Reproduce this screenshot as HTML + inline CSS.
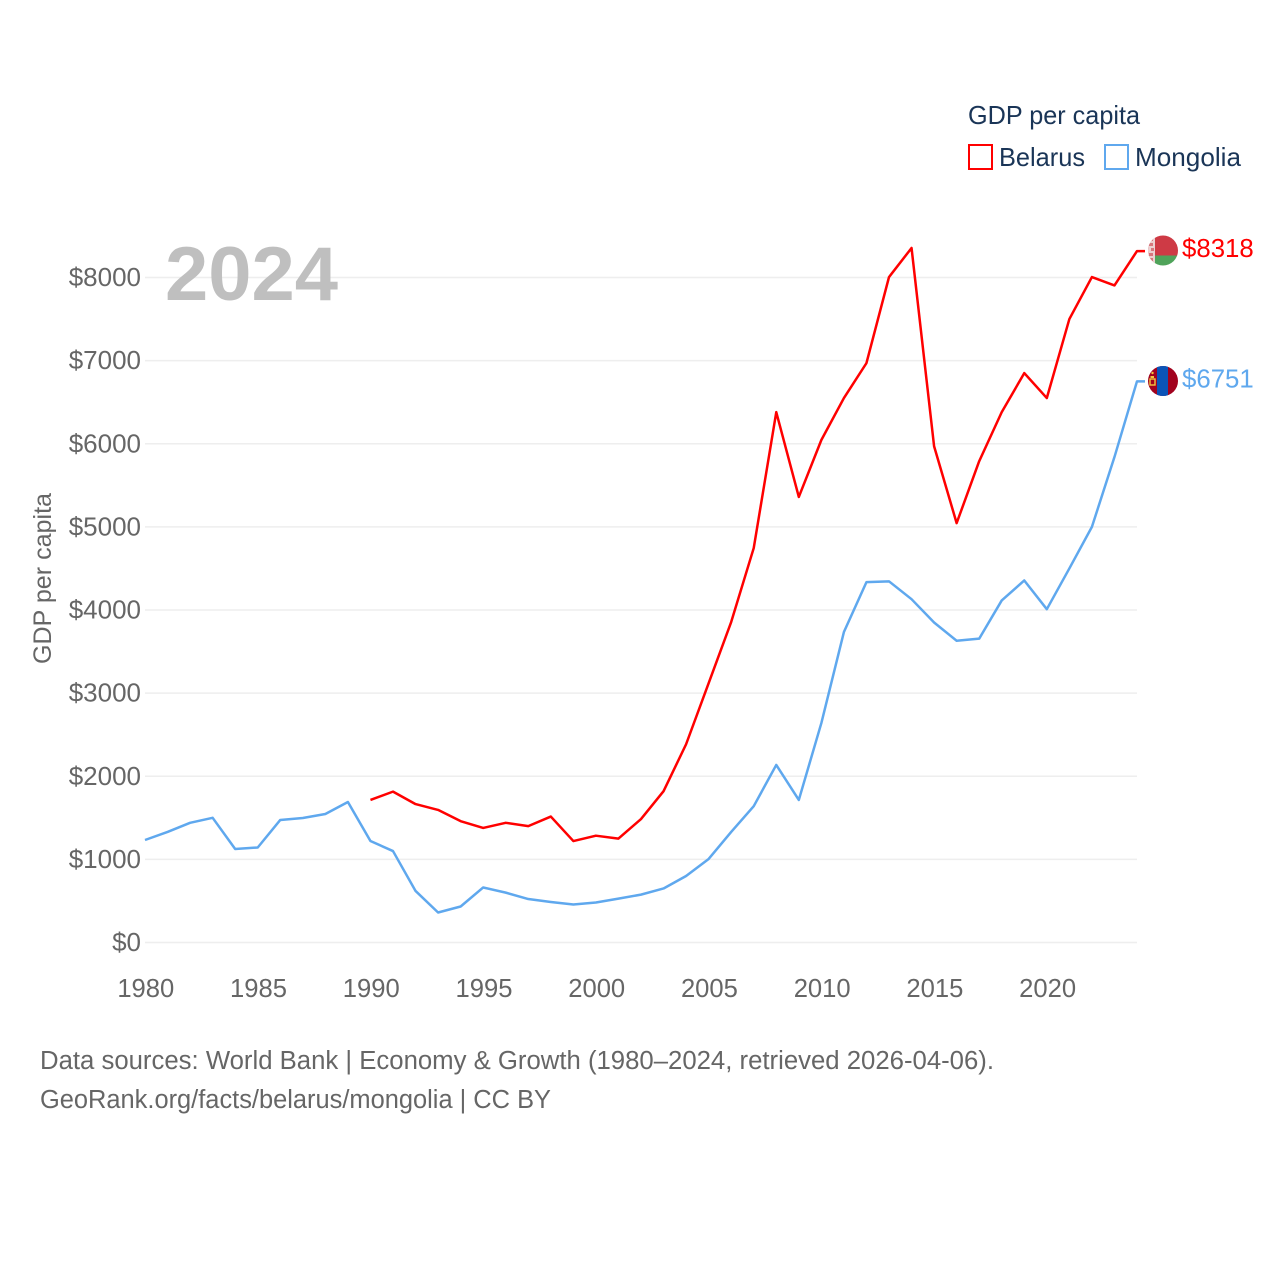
<!DOCTYPE html>
<html lang="en">
<head>
<meta charset="utf-8">
<title>GDP per capita: Belarus vs Mongolia</title>
<style>
html,body{margin:0;padding:0;background:#fff;width:1280px;height:1280px;overflow:hidden}
svg{display:block}
text{font-family:"Liberation Sans",sans-serif}
</style>
</head>
<body>
<svg id="chart" width="1280" height="1280" viewBox="0 0 1280 1280" xmlns="http://www.w3.org/2000/svg">
  <defs>
    <clipPath id="clip-by"><circle cx="1163" cy="250.5" r="15"/></clipPath>
    <clipPath id="clip-mn"><circle cx="1163" cy="381" r="15"/></clipPath>
  </defs>
  <g id="grid"></g>
  <g id="yticks"></g>
  <g id="xticks"></g>
  <text x="165" y="300" font-size="76" font-weight="700" fill="#bfbfbf" textLength="173" lengthAdjust="spacingAndGlyphs">2024</text>
  <text transform="translate(51,664) rotate(-90)" font-size="25" fill="#666" textLength="171" lengthAdjust="spacingAndGlyphs">GDP per capita</text>
  <g id="series"></g>

  <g>
    <text x="968" y="124" font-size="26" fill="#1a3557" textLength="172" lengthAdjust="spacingAndGlyphs">GDP per capita</text>
    <rect x="969" y="145" width="23" height="24" fill="none" stroke="#ff0000" stroke-width="2"/>
    <text x="999" y="166" font-size="26" fill="#1a3557" textLength="86" lengthAdjust="spacingAndGlyphs">Belarus</text>
    <rect x="1105" y="145" width="23" height="24" fill="none" stroke="#5fa8ee" stroke-width="2"/>
    <text x="1135" y="166" font-size="26" fill="#1a3557" textLength="106" lengthAdjust="spacingAndGlyphs">Mongolia</text>
  </g>

  <g clip-path="url(#clip-by)">
    <rect x="1148" y="235" width="30" height="21" fill="#ce3a45"/>
    <rect x="1148" y="255.5" width="30" height="11" fill="#4fa35a"/>
    <rect x="1148" y="235" width="7" height="32" fill="#ecd0d2"/>
    <path d="M1150 238h3v3h-3zM1149 243h4v3h-4zM1151 248h3v3h-3zM1149 253h4v3h-4zM1150 258h3v3h-3z" fill="#d7767c"/>
  </g>
  <g clip-path="url(#clip-mn)">
    <rect x="1148" y="365" width="30" height="32" fill="#a1021e"/>
    <rect x="1157" y="365" width="11" height="32" fill="#0a54b8"/>
    <rect x="1150.5" y="376" width="3.5" height="2" fill="#f2c83c"/>
    <rect x="1150" y="379" width="5" height="6" fill="none" stroke="#f2c83c" stroke-width="1.4"/>
    <circle cx="1152.5" cy="373" r="1.2" fill="#f2c83c"/>
  </g>

  <text x="40" y="1069" font-size="25.5" fill="#666" textLength="954" lengthAdjust="spacingAndGlyphs">Data sources: World Bank | Economy &amp; Growth (1980–2024, retrieved 2026-04-06).</text>
  <a><text x="40" y="1108" font-size="25.5" fill="#666" textLength="511" lengthAdjust="spacingAndGlyphs">GeoRank.org/facts/belarus/mongolia | CC BY</text></a>
</svg>
<script>
const years = [1980,1981,1982,1983,1984,1985,1986,1987,1988,1989,1990,1991,1992,1993,1994,1995,1996,1997,1998,1999,2000,2001,2002,2003,2004,2005,2006,2007,2008,2009,2010,2011,2012,2013,2014,2015,2016,2017,2018,2019,2020,2021,2022,2023,2024];
const belarus = [null,null,null,null,null,null,null,null,null,null,1715,1815,1665,1595,1460,1378,1440,1400,1515,1220,1285,1250,1485,1820,2385,3120,3855,4745,6380,5360,6045,6550,6970,8005,8355,5970,5045,5790,6380,6850,6550,7500,8005,7905,8318];
const mongolia = [1233,1330,1440,1500,1125,1143,1474,1498,1546,1690,1221,1100,620,361,433,662,600,523,487,457,481,528,576,650,800,1005,1330,1640,2136,1715,2640,3735,4335,4345,4130,3850,3630,3655,4115,4355,4010,4500,5000,5840,6751];
const yTicks = [0,1000,2000,3000,4000,5000,6000,7000,8000];
const xTicks = [1980,1985,1990,1995,2000,2005,2010,2015,2020];

const SVGNS = 'http://www.w3.org/2000/svg';
const xScale = function (yr) { return 145 + (yr - 1980) * (1137 - 145) / 44; };
const yScale = function (v) { return 942.5 - v * (942.5 - 277.5) / 8000; };

const grid = document.getElementById('grid');
const yG = document.getElementById('yticks');
const xG = document.getElementById('xticks');
const seriesG = document.getElementById('series');

yTicks.forEach(function (t) {
  const l = document.createElementNS(SVGNS, 'line');
  
  
  l.setAttribute('x1', 145);
  l.setAttribute('x2', 1137);
  l.setAttribute('y1', yScale(t));
  l.setAttribute('y2', yScale(t));
  l.setAttribute('stroke', '#eeeeee');
  l.setAttribute('stroke-width', 1.5);
  grid.appendChild(l);
  const s = document.createElementNS(SVGNS, 'text');
  
  
  s.setAttribute('x', 141);
  s.setAttribute('y', yScale(t) + 8.5);
  s.setAttribute('text-anchor', 'end');
  s.setAttribute('font-size', 26);
  s.setAttribute('fill', '#666');
  s.textContent = '$' + t;
  yG.appendChild(s);
});

xTicks.forEach(function (t) {
  const s = document.createElementNS(SVGNS, 'text');
  
  
  s.setAttribute('x', xScale(t) + 0.8);
  s.setAttribute('y', 997);
  s.setAttribute('text-anchor', 'middle');
  s.setAttribute('font-size', 25.6);
  s.setAttribute('fill', '#666');
  s.textContent = t;
  xG.appendChild(s);
});

function drawSeries(values, color, lineName, labelName) {
  let d = '';
  let lastX = 0, lastY = 0, lastV = 0;
  values.forEach(function (v, i) {
    if (v === null) return;
    lastX = xScale(years[i]);
    lastY = yScale(v);
    lastV = v;
    d += (d ? 'L' : 'M') + lastX.toFixed(2) + ' ' + lastY.toFixed(2);
  });
  d += 'H' + (lastX + 8);
  const p = document.createElementNS(SVGNS, 'path');
  
  
  p.setAttribute('d', d);
  p.setAttribute('fill', 'none');
  p.setAttribute('stroke', color);
  p.setAttribute('stroke-width', 2.5);
  p.setAttribute('stroke-linejoin', 'round');
  seriesG.appendChild(p);
  const t = document.createElementNS(SVGNS, 'text');
  
  
  t.setAttribute('x', 1182);
  t.setAttribute('y', lastY + 6);
  t.setAttribute('font-size', 25.8);
  t.setAttribute('fill', color);
  t.textContent = '$' + lastV;
  seriesG.appendChild(t);
}
drawSeries(mongolia, '#5fa8ee', 'line-mongolia', 'value-label-mongolia');
drawSeries(belarus, '#ff0000', 'line-belarus', 'value-label-belarus');
</script>
</body>
</html>
